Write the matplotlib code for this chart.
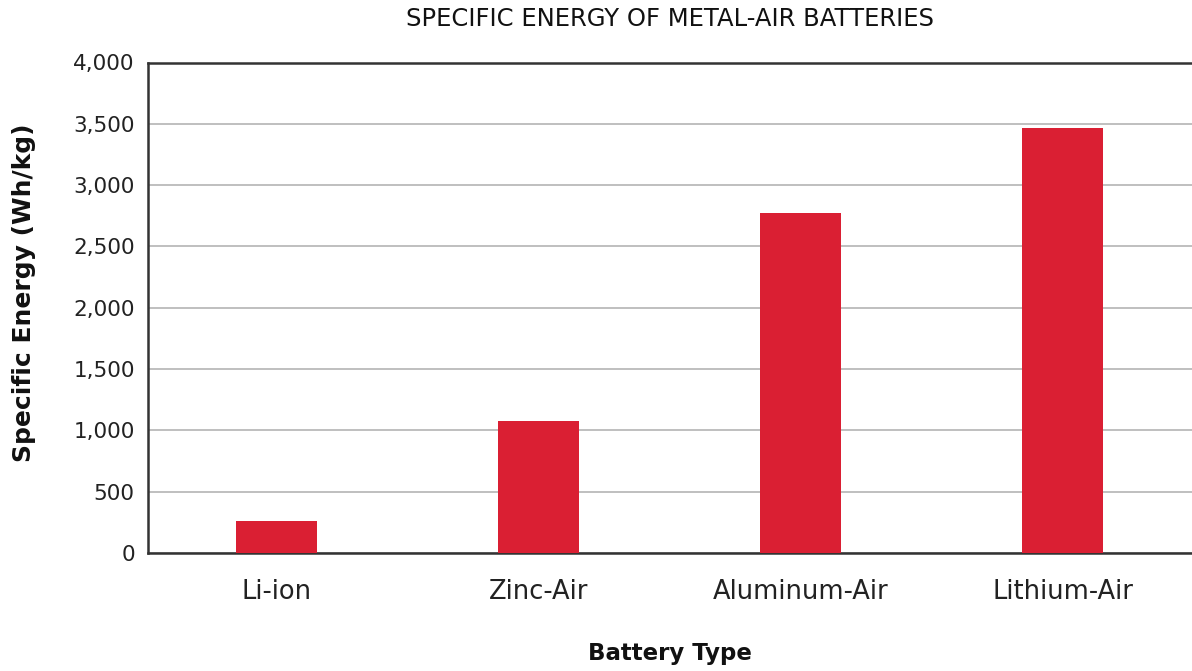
import matplotlib
matplotlib.use("Agg")
import matplotlib.pyplot as plt
from matplotlib.ticker import FuncFormatter

# data
battery_types = ["Li-ion", "Zinc-Air", "Aluminum-Air", "Lithium-Air"]
specific_energy = [261, 1076, 2772, 3465]  # Wh/kg
y_ticks = [0, 500, 1000, 1500, 2000, 2500, 3000, 3500, 4000]

plt.rcParams['font.family'] = ['DejaVu Sans']

fig = plt.figure(figsize=(11.92, 6.71), dpi=100)
ax = fig.add_axes([148/1192, 1 - 553/671, 1 - 148/1192, (553 - 62.5)/671])

x = range(len(battery_types))
ax.bar(x, specific_energy, width=0.31, color="#DA1F33", zorder=3)

ax.set_xlim(-0.49, 3.494)
ax.set_ylim(0, 4000)
ax.set_yticks(y_ticks)
ax.yaxis.set_major_formatter(FuncFormatter(lambda v, p: f"{int(v):,}"))
ax.set_xticks(list(x))
ax.set_xticklabels(battery_types, fontsize=18.5, color="#222222")
ax.tick_params(axis="y", length=0, pad=9.5, labelsize=15.5, labelcolor="#222222")
ax.tick_params(axis="x", length=0, pad=18.5)

ax.grid(axis="y", color="#b4b4b4", linewidth=1.2, zorder=0)
for s in ["left", "bottom", "top"]:
    ax.spines[s].set_color("#333333")
    ax.spines[s].set_linewidth(1.8)
ax.spines["right"].set_visible(False)

ax.set_xlabel("Battery Type", fontsize=16.5, fontweight="bold", color="#111111", labelpad=27)
ax.set_ylabel("Specific Energy (Wh/kg)", fontsize=18, fontweight="bold", color="#111111")
ax.yaxis.set_label_coords(-0.107, 0.53)
ax.set_title("SPECIFIC ENERGY OF METAL-AIR BATTERIES", fontsize=17.5, color="#111111", pad=26)

fig.savefig("out.png", dpi=100)
